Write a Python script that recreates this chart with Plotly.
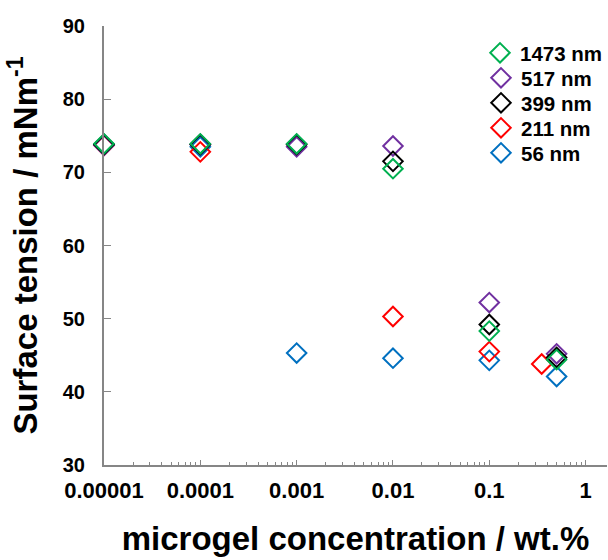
import plotly.graph_objects as go

# Microgel concentration (wt.%) and surface tension (mN/m) for each particle size
conc_1473 = [0.00001, 0.0001, 0.001, 0.01, 0.1, 0.5]
st_1473 = [73.9, 73.9, 73.9, 70.5, 48.3, 44.4]

conc_517 = [0.00001, 0.0001, 0.001, 0.01, 0.1, 0.5]
st_517 = [73.7, 73.8, 73.5, 73.6, 52.2, 45.2]

conc_399 = [0.00001, 0.0001, 0.001, 0.01, 0.1, 0.5]
st_399 = [73.8, 73.8, 73.8, 71.5, 49.2, 44.7]

conc_211 = [0.00001, 0.0001, 0.01, 0.1, 0.35]
st_211 = [73.7, 72.8, 50.3, 45.5, 43.8]

conc_56 = [0.00001, 0.0001, 0.001, 0.01, 0.1, 0.5]
st_56 = [73.8, 73.5, 45.3, 44.6, 44.3, 42.1]

x_tickvals = [0.00001, 0.0001, 0.001, 0.01, 0.1, 1]
x_ticktext = ["0.00001", "0.0001", "0.001", "0.01", "0.1", "1"]
y_tickvals = [30, 40, 50, 60, 70, 80, 90]

# (name, x, y, colour, legend slot) -- drawn bottom to top
series = [
    ("56 nm", conc_56, st_56, "#0070C0", 5),
    ("211 nm", conc_211, st_211, "#FF0000", 4),
    ("517 nm", conc_517, st_517, "#7030A0", 2),
    ("399 nm", conc_399, st_399, "#000000", 3),
    ("1473 nm", conc_1473, st_1473, "#00B050", 1),
]

FONT = "Liberation Sans, Arial, sans-serif"
AXIS_GREY = "#868686"
PLOT_TOP, PLOT_BOTTOM = 26, 465          # pixel rows of the plot area
LEGEND_ROW0, LEGEND_STEP = 53, 25        # legend row centres (px from top)

fig = go.Figure()
legend_layouts = {}
for name, xs, ys, col, slot in series:
    key = "legend" if slot == 1 else f"legend{slot}"
    fig.add_trace(go.Scatter(
        x=xs, y=ys, mode="markers", name=name, legend=key,
        cliponaxis=False,
        marker=dict(symbol="diamond-open", size=15, color=col,
                    line=dict(width=2, color=col)),
    ))
    row_px = LEGEND_ROW0 + (slot - 1) * LEGEND_STEP
    legend_layouts[key] = dict(
        x=0.748, y=(PLOT_BOTTOM - row_px) / (PLOT_BOTTOM - PLOT_TOP),
        xanchor="left", yanchor="middle",
        bgcolor="rgba(0,0,0,0)", borderwidth=0,
        font=dict(family=FONT, size=20.5, color="black", weight="bold"),
    )

fig.update_layout(
    width=608, height=560,
    margin=dict(l=104, r=0, t=PLOT_TOP, b=560 - PLOT_BOTTOM),
    paper_bgcolor="white", plot_bgcolor="white",
    font=dict(family=FONT, color="black"),
    showlegend=True,
    xaxis=dict(
        type="log", range=[-5, 0.222],
        tickvals=x_tickvals, ticktext=x_ticktext,
        ticks="inside", ticklen=5, tickwidth=1, tickcolor=AXIS_GREY,
        showline=True, linecolor=AXIS_GREY, linewidth=2,
        showgrid=False, zeroline=False,
        tickfont=dict(family=FONT, size=22, color="black", weight="bold"),
        ticklabelstandoff=5,
        minor=dict(ticks="inside", ticklen=3, tickwidth=1, tickcolor=AXIS_GREY,
                   dtick="D1", showgrid=False),
        title=dict(text="microgel concentration / wt.%", standoff=24,
                   font=dict(family=FONT, size=33, color="black", weight="bold")),
    ),
    yaxis=dict(
        range=[30, 90], tickvals=y_tickvals,
        ticks="inside", ticklen=7, tickwidth=1, tickcolor=AXIS_GREY,
        showline=True, linecolor=AXIS_GREY, linewidth=2,
        showgrid=False, zeroline=False,
        tickfont=dict(family=FONT, size=20, color="black", weight="bold"),
        ticklabelstandoff=13,
        title=dict(text="Surface tension / mNm<sup>-1</sup>", standoff=15,
                   font=dict(family=FONT, size=33, color="black", weight="bold")),
    ),
    **legend_layouts,
)

fig.write_html("out.html")
